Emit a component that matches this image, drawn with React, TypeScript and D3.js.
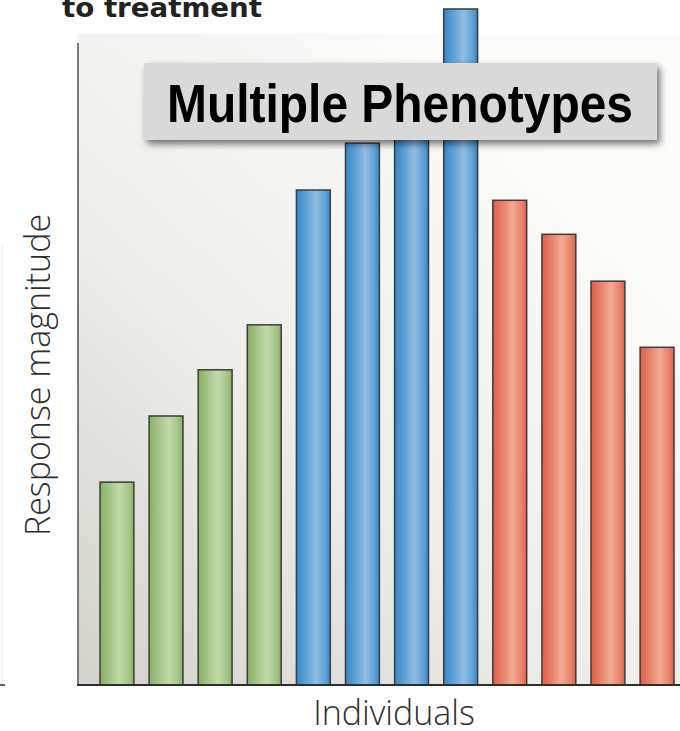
import React from "react";
import * as d3 from "d3";

// Response of each individual to treatment, grouped by phenotype
const individuals = ["1", "2", "3", "4", "5", "6", "7", "8", "9", "10", "11", "12"];
const phenotypes = ["green", "green", "green", "green", "blue", "blue", "blue", "blue", "red", "red", "red", "red"];
const responses = [31.6, 41.9, 49.1, 56.1, 77.1, 84.4, 90.0, 105.3, 75.5, 70.2, 62.9, 52.6];

const titleText = "to treatment";
const boxText = "Multiple Phenotypes";
const yLabel = "Response magnitude";
const xLabel = "Individuals";

const W = 680;
const H = 731;
const plotLeft = 77;
const plotRight = 680;
const plotTop = 34;
const axisTop = 43;
const baseline = 685;

const palette: Record<string, { edge: string; mid: string; light: string }> = {
  green: { edge: "#86b062", mid: "#a6c68a", light: "#c4d9ab" },
  blue: { edge: "#3489ca", mid: "#5fa2d6", light: "#93bde3" },
  red: { edge: "#de5f48", mid: "#e8836c", light: "#f2ab93" },
};

export default function App() {
  const outer = 0.3;
  const inner = 0.31;
  const step = (640 - 100) / 11;
  const x = d3
    .scaleBand<string>()
    .domain(individuals)
    .range([100 - outer * step, 674 + outer * step])
    .paddingInner(inner)
    .paddingOuter(outer);
  const y = d3.scaleLinear().domain([0, 100]).range([baseline, axisTop]);

  return (
    <svg width={W} height={H} style={{ position: "absolute", left: 0, top: 0 }}>
      <defs>
        <linearGradient id="bg" x1="0" y1="1" x2="0.75" y2="0.1">
          <stop offset="0" stopColor="#d2d1cb" />
          <stop offset="0.45" stopColor="#ecece9" />
          <stop offset="1" stopColor="#fcfcfb" />
        </linearGradient>
        {Object.entries(palette).map(([k, c]) => (
          <linearGradient key={k} id={`bar-${k}`} x1="0" y1="0" x2="1" y2="0">
            <stop offset="0" stopColor={c.edge} />
            <stop offset="0.3" stopColor={c.mid} />
            <stop offset="0.58" stopColor={c.light} />
            <stop offset="0.85" stopColor={c.mid} />
            <stop offset="1" stopColor={c.edge} />
          </linearGradient>
        ))}
        <filter id="shadow" x="-10%" y="-30%" width="120%" height="170%">
          <feDropShadow dx="3" dy="4" stdDeviation="3.5" floodColor="#000" floodOpacity="0.55" />
        </filter>
      </defs>

      <rect x={0} y={0} width={W} height={H} fill="#ffffff" />

      {/* plot background */}
      <rect x={plotLeft} y={plotTop} width={plotRight - plotLeft} height={baseline - plotTop} fill="url(#bg)" />

      {/* faint frame remnants at left edge */}
      <line x1={2} x2={2} y1={245} y2={684} stroke="#f3f3f3" strokeWidth={2} />
      <line x1={0} x2={5} y1={685} y2={685} stroke="#333" strokeWidth={1.5} />

      {/* title (second line) */}
      <text
        x={62}
        y={17}
        fontFamily="'DejaVu Sans', Verdana, sans-serif"
        fontWeight="bold"
        fontSize={27}
        fill="#222"
        textLength={200}
        lengthAdjust="spacingAndGlyphs"
      >
        {titleText}
      </text>

      {/* bars */}
      {individuals.map((id, i) => {
        const bx = x(id)!;
        const by = y(responses[i]);
        return (
          <rect
            key={id}
            x={bx}
            y={by}
            width={x.bandwidth()}
            height={baseline - by}
            fill={`url(#bar-${phenotypes[i]})`}
            stroke="#3c3c3c"
            strokeWidth={1.5}
          />
        );
      })}

      {/* axes */}
      <line x1={78} x2={78} y1={axisTop} y2={baseline} stroke="#7a7a7a" strokeWidth={2} />
      <line x1={plotLeft} x2={plotRight} y1={baseline} y2={baseline} stroke="#2e2e2e" strokeWidth={2} />

      {/* annotation box */}
      <g filter="url(#shadow)">
        <rect x={144} y={63} width={513} height={77} fill="#d9d9d9" />
      </g>
      <text
        x={400}
        y={122}
        textAnchor="middle"
        fontFamily="'Liberation Sans', Arial, sans-serif"
        fontWeight="bold"
        fontSize={54}
        fill="#000"
        textLength={466}
        lengthAdjust="spacingAndGlyphs"
      >
        {boxText}
      </text>

      {/* axis titles */}
      <text
        transform="translate(50,375) rotate(-90)"
        textAnchor="middle"
        fontFamily="'Open Sans', sans-serif"
        fontWeight={300}
        fontSize={34}
        fill="#2e2e2e"
      >
        {yLabel}
      </text>
      <text
        x={394}
        y={725}
        textAnchor="middle"
        fontFamily="'Open Sans', sans-serif"
        fontWeight={300}
        fontSize={34}
        fill="#2e2e2e"
      >
        {xLabel}
      </text>
    </svg>
  );
}
